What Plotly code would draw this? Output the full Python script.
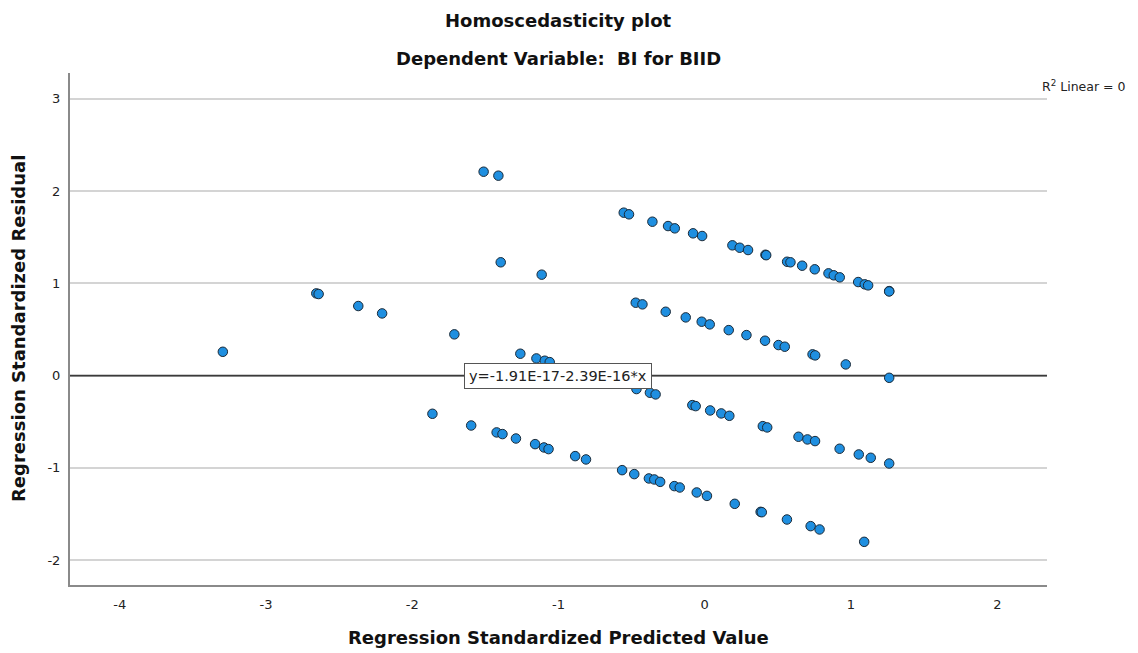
import plotly.graph_objects as go

# ---- data ----
band1_x = [-1.512, -1.411, -0.554, -0.518, -0.358, -0.251, -0.205, -0.080, -0.018, 0.189, 0.239, 0.296,
           0.415, 0.420, 0.563, 0.586, 0.666, 0.752, 0.846, 0.882, 0.923, 1.049, 1.094, 1.117, 1.261, 1.261]
band1_y = [2.210, 2.167, 1.766, 1.748, 1.668, 1.621, 1.596, 1.542, 1.513, 1.412, 1.386, 1.361,
           1.310, 1.305, 1.234, 1.228, 1.191, 1.152, 1.108, 1.087, 1.065, 1.014, 0.989, 0.978, 0.916, 0.912]

band2_x = [-1.395, -1.115, -0.472, -0.426, -0.267, -0.130, -0.021, 0.034, 0.164, 0.285, 0.412, 0.504,
           0.547, 0.737, 0.755, 0.964, 1.261]
band2_y = [1.228, 1.094, 0.790, 0.772, 0.692, 0.631, 0.584, 0.555, 0.493, 0.439, 0.378, 0.331,
           0.313, 0.230, 0.219, 0.121, -0.024]

band3_x = [-2.656, -2.640, -2.369, -2.206, -1.712, -1.261, -1.151, -1.094, -1.060, -0.467, -0.375, -0.336,
           -0.085, -0.062, 0.037, 0.113, 0.168, 0.397, 0.427, 0.641, 0.702, 0.754, 0.922, 1.053, 1.135, 1.261]
band3_y = [0.891, 0.884, 0.754, 0.674, 0.447, 0.237, 0.186, 0.161, 0.146, -0.146, -0.186, -0.204,
           -0.320, -0.331, -0.378, -0.410, -0.436, -0.548, -0.562, -0.663, -0.692, -0.710, -0.793, -0.855, -0.891, -0.953]

band4_x = [-3.295, -1.862, -1.597, -1.423, -1.383, -1.291, -1.160, -1.099, -1.068, -0.886, -0.812, -0.565,
           -0.482, -0.382, -0.345, -0.305, -0.208, -0.171, -0.055, 0.015, 0.205, 0.382, 0.390, 0.562, 0.724,
           0.785, 1.090]
band4_y = [0.258, -0.414, -0.541, -0.616, -0.634, -0.682, -0.743, -0.779, -0.797, -0.873, -0.909, -1.025,
           -1.068, -1.115, -1.126, -1.152, -1.198, -1.213, -1.267, -1.304, -1.390, -1.477, -1.481, -1.560, -1.632,
           -1.668, -1.802]

fit_intercept = -1.91e-17
fit_slope = -2.39e-16
fit_label = "y=-1.91E-17-2.39E-16*x"
r2_label = "R<sup>2</sup> Linear = 0"

x_range = [-4.34, 2.34]
y_range = [-2.27, 3.28]
x_ticks = [-4, -3, -2, -1, 0, 1, 2]
y_ticks = [-2, -1, 0, 1, 2, 3]

title_1 = "Homoscedasticity plot"
title_2 = "Dependent Variable:\u00a0 BI for BIID"
x_title = "Regression Standardized Predicted Value"
y_title = "Regression Standardized Residual"

# ---- figure ----
FONT = "DejaVu Sans, Liberation Sans, Arial, sans-serif"
pred = band1_x + band2_x + band3_x + band4_x
resid = band1_y + band2_y + band3_y + band4_y

fig = go.Figure()

fit_x = x_range
fit_y = [fit_intercept + fit_slope * v for v in fit_x]
fig.add_trace(go.Scatter(x=fit_x, y=fit_y, mode="lines",
                         line=dict(color="#3a3a3a", width=1.6),
                         hoverinfo="skip", showlegend=False))

fig.add_trace(go.Scatter(x=pred, y=resid, mode="markers",
                         marker=dict(size=9.5, color="#1f8fe0",
                                     line=dict(color="#1b2a38", width=1)),
                         showlegend=False))

fig.update_layout(
    width=1130, height=645,
    margin=dict(l=62, r=91, t=65, b=68),
    paper_bgcolor="white", plot_bgcolor="white",
    font=dict(family=FONT, color="#222", size=13),
    xaxis=dict(range=x_range, tickvals=x_ticks, ticktext=[str(v) for v in x_ticks],
               showgrid=False, zeroline=False,
               showline=True, linecolor="#8a8a8a", linewidth=2,
               ticks="outside", ticklen=6, tickcolor="rgba(0,0,0,0)",
               tickfont=dict(size=13, color="#222")),
    yaxis=dict(range=y_range, tickvals=y_ticks, ticktext=[str(v) for v in y_ticks],
               showgrid=True, gridcolor="#d4d4d4", gridwidth=1.5,
               zeroline=False, showline=True, linecolor="#8a8a8a", linewidth=2,
               ticks="outside", ticklen=5, tickcolor="rgba(0,0,0,0)",
               tickfont=dict(size=13, color="#222")),
)

TFONT = dict(size=18, family=FONT, color="#111")
fig.add_annotation(text="<b>" + title_1 + "</b>", xref="paper", yref="paper",
                   x=0.5, y=1, yanchor="middle", yshift=53, showarrow=False, font=TFONT)
fig.add_annotation(text="<b>" + title_2 + "</b>", xref="paper", yref="paper",
                   x=0.5, y=1, yanchor="middle", yshift=15, showarrow=False, font=TFONT)
fig.add_annotation(text="<b>" + x_title + "</b>", xref="paper", yref="paper",
                   x=0.5, y=0, yanchor="middle", yshift=-52, showarrow=False, font=TFONT)
fig.add_annotation(text="<b>" + y_title + "</b>", xref="paper", yref="paper",
                   x=0, y=0.5, xanchor="center", yanchor="middle", xshift=-52,
                   showarrow=False, textangle=-90, font=TFONT)
fig.add_annotation(text=r2_label, xref="paper", yref="paper",
                   x=1, y=1, xanchor="left", yanchor="middle", xshift=-7, yshift=-13,
                   showarrow=False, font=dict(size=12.5, family=FONT, color="#222"))
fig.add_annotation(text=fit_label, xref="x", yref="y",
                   x=-1.002, y=fit_intercept, xanchor="center", yanchor="middle", showarrow=False,
                   bgcolor="white", bordercolor="#555", borderwidth=1, borderpad=4,
                   font=dict(size=14.5, family=FONT, color="#222"))

fig.write_html("out.html")
